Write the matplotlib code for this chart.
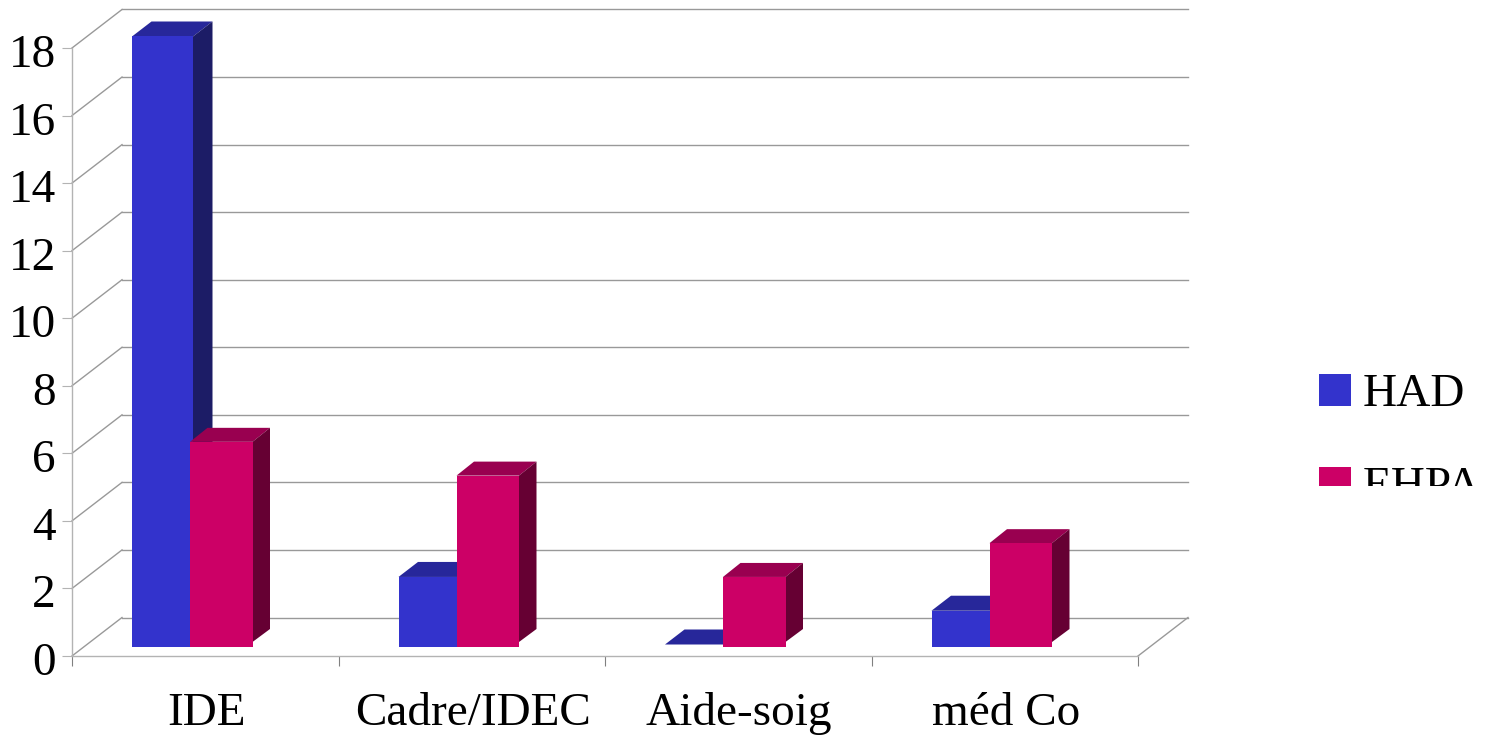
import matplotlib
matplotlib.use('Agg')
import matplotlib.pyplot as plt
from matplotlib.patches import Polygon, Rectangle

categories = ['IDE', 'Cadre/IDEC', 'Aide-soig', 'méd Co']
had = [18, 2, 0, 1]
ehpa = [6, 5, 2, 3]
yticks = list(range(0, 20, 2))

W, H = 1490, 735
plt.rcParams['font.family'] = ['Liberation Serif', 'DejaVu Serif']
fontsize = 34

fig = plt.figure(figsize=(W / 100, H / 100), dpi=100, facecolor='white')
# front plane of the fake 3D box, in pixels: x 72-1138, y 656-48
ax = fig.add_axes([72 / W, 1 - 656 / H, 1066 / W, 608 / H])
ax.set_xlim(0, 4)
ax.set_ylim(0, 18)
ax.patch.set_visible(False)

# one pixel in data units
px = 4 / 1066
py = 18 / 608

for s in ['top', 'right']:
    ax.spines[s].set_visible(False)
for s in ['left', 'bottom']:
    ax.spines[s].set_color('#b3b3b3')
    ax.spines[s].set_linewidth(1.0)
ax.set_yticks(yticks)
ax.set_yticklabels([])
ax.set_xticks(range(5))
ax.set_xticklabels([])
ax.tick_params(axis='y', length=7.2, width=0.8, color='#b3b3b3')
ax.tick_params(axis='x', length=7.2, width=0.8, color='#808080')

for v in yticks:
    ax.text(-16 * px, v - 19 * py, str(v), ha='right', va='baseline', fontsize=fontsize, color='black')
for i, c in enumerate(categories):
    ax.text(i + 0.5 + px, -69 * py, c, ha='center', va='baseline', fontsize=fontsize, color='black')

# back wall grid and the depth lines running to it
depth_x = 50 * px
depth_y = 38.5 * py
grid = '#999999'
for v in yticks:
    ax.plot([0, depth_x], [v, v + depth_y], color=grid, lw=1.0, clip_on=False, zorder=1)
    ax.plot([depth_x, 4 + depth_x], [v + depth_y, v + depth_y], color=grid, lw=1.0, clip_on=False, zorder=1)
ax.plot([4, 4 + depth_x], [0, depth_y], color=grid, lw=1.0, clip_on=False, zorder=1)


def bar3d(left, width, value, front, top, side, dx, dy, z):
    # the front face sits a little above the floor line, its foot a bit lower still
    foot = 9 * py
    base = 11.5 * py
    x0, x1 = left, left + width
    y1 = value + base
    ax.add_patch(Polygon([(x0, y1), (x0 + dx, y1 + dy), (x1 + dx, y1 + dy), (x1, y1)],
                         facecolor=top, edgecolor='none', clip_on=False, zorder=z))
    if value <= 0:
        return
    ax.add_patch(Polygon([(x1, y1), (x1 + dx, y1 + dy), (x1 + dx, foot + 18 * py), (x1, foot + 5 * py)],
                         facecolor=side, edgecolor='none', clip_on=False, zorder=z))
    ax.add_patch(Rectangle((x0, foot), width, y1 - foot, facecolor=front, edgecolor='none', clip_on=False, zorder=z))


had_colors = ('#3333cc', '#27279a', '#1c1c66')
ehpa_colors = ('#cc0066', '#990050', '#660033')
for i in range(len(categories)):
    bar3d(i + 60 * px, 61 * px, had[i], *had_colors, 19.5 * px, 15 * py, 3)
    bar3d(i + 118 * px, 62.5 * px, ehpa[i], *ehpa_colors, 17.5 * px, 14 * py, 4)

# legend, the second entry is cut off by the frame below y=486
entries = [('HAD', had_colors[0], 374, 406), ('EHPA', ehpa_colors[0], 467, 499)]
for name, color, y0, y1 in entries:
    r = Rectangle((1319 / W, 1 - y1 / H), 32 / W, (y1 - y0) / H, transform=fig.transFigure,
                  facecolor=color, edgecolor='none')
    fig.add_artist(r)
    t = fig.text(1363 / W, 1 - y1 / H, name, ha='left', va='baseline', fontsize=fontsize, color='black')
    # clip rectangle in display coordinates, y counted from the bottom
    for artist in (r, t):
        artist.set_clip_path(Rectangle((0, H - 486), W, 486, transform=None))
        artist.set_clip_on(True)

fig.savefig('out.png', dpi=100, facecolor='white')
